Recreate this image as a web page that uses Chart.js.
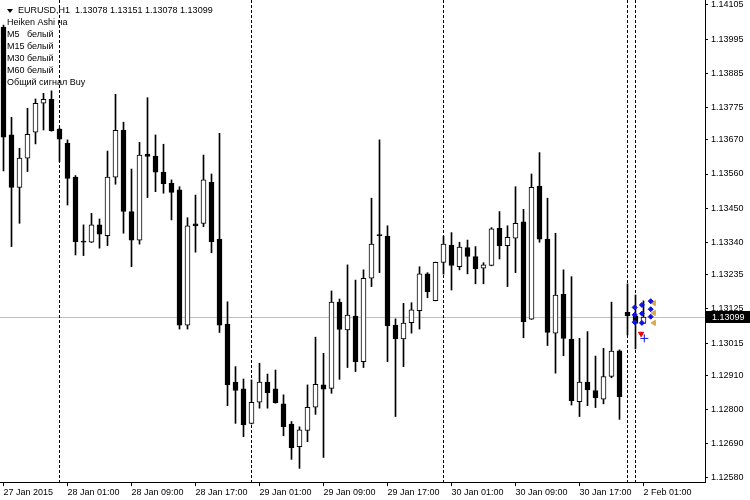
<!DOCTYPE html>
<html><head><meta charset="utf-8">
<script src="https://cdn.jsdelivr.net/npm/chart.js@4"></script>
<style>html,body{margin:0;padding:0;background:#fff;overflow:hidden}</style>
</head><body>
<canvas id="c" width="750" height="500"></canvas>
<script>
// ---- data ----
const timeLabels = ["27 Jan 2015","28 Jan 01:00","28 Jan 09:00","28 Jan 17:00","29 Jan 01:00","29 Jan 09:00","29 Jan 17:00","30 Jan 01:00","30 Jan 09:00","30 Jan 17:00","2 Feb 01:00"];
const timeTickIndex = [0,8,16,24,32,40,48,56,64,72,80];
const separators = [7,31,55,78,79];
const yTicks = [1.14105,1.13995,1.13885,1.13775,1.13670,1.13560,1.13450,1.13340,1.13235,1.13125,1.13015,1.12910,1.12800,1.12690,1.12580];
const currentPrice = 1.13099;
const headerLines = ["EURUSD,H1  1.13078 1.13151 1.13078 1.13099","Heiken Ashi на","M5   белый","M15 белый","M30 белый","M60 белый","Общий сигнал Buy"];

const opens  = [1.14034,1.13686,1.13517,1.13611,1.13695,1.13788,1.13801,1.13705,1.13659,1.13550,1.13344,1.13340,1.13396,1.13361,1.13550,1.13701,1.13439,1.13347,1.13624,1.13618,1.13566,1.13530,1.13509,1.13073,1.13399,1.13401,1.13533,1.13350,1.13076,1.12889,1.12867,1.12756,1.12824,1.12889,1.12867,1.12819,1.12754,1.12681,1.12733,1.12808,1.12880,1.12869,1.13147,1.13057,1.13102,1.12955,1.13224,1.13365,1.13360,1.13073,1.13028,1.13081,1.13119,1.13238,1.13152,1.13275,1.13331,1.13261,1.13323,1.13294,1.13256,1.13265,1.13385,1.13329,1.13353,1.13406,1.13092,1.13521,1.13350,1.13047,1.13172,1.13028,1.12826,1.12889,1.12862,1.12834,1.12907,1.12990,1.13114,1.13103,1.13078];
const highs  = [1.14040,1.13743,1.13643,1.13772,1.13802,1.13820,1.13828,1.13708,1.13670,1.13555,1.13396,1.13433,1.13415,1.13634,1.13817,1.13727,1.13576,1.13662,1.13806,1.13686,1.13656,1.13541,1.13519,1.13419,1.13492,1.13621,1.13560,1.13691,1.13148,1.12939,1.12899,1.12896,1.12950,1.12915,1.12928,1.12848,1.12762,1.12745,1.12880,1.13034,1.12982,1.13183,1.13157,1.13267,1.13218,1.13251,1.13482,1.13670,1.13393,1.13093,1.13143,1.13145,1.13261,1.13242,1.13276,1.13360,1.13371,1.13340,1.13347,1.13326,1.13274,1.13387,1.13439,1.13393,1.13519,1.13446,1.13560,1.13629,1.13482,1.13369,1.13251,1.13229,1.13030,1.13052,1.12973,1.12998,1.13147,1.12993,1.13206,1.13170,1.13151];
const lows   = [1.13570,1.13326,1.13401,1.13568,1.13657,1.13702,1.13698,1.13600,1.13460,1.13299,1.13297,1.13339,1.13321,1.13329,1.13527,1.13369,1.13261,1.13334,1.13484,1.13503,1.13498,1.13412,1.13060,1.13060,1.13308,1.13390,1.13306,1.13049,1.12813,1.12756,1.12713,1.12754,1.12805,1.12805,1.12821,1.12716,1.12640,1.12611,1.12697,1.12785,1.12646,1.12853,1.12898,1.12936,1.12923,1.12936,1.13197,1.13242,1.12955,1.12778,1.12939,1.13047,1.13060,1.13161,1.13151,1.13237,1.13186,1.13251,1.13238,1.13206,1.13206,1.13264,1.13286,1.13197,1.13242,1.13032,1.13091,1.13340,1.13007,1.12918,1.12974,1.12815,1.12778,1.12813,1.12807,1.12819,1.12903,1.12769,1.13041,1.12996,1.13078];
const closes = [1.13679,1.13517,1.13611,1.13688,1.13788,1.13801,1.13700,1.13672,1.13546,1.13342,1.13340,1.13396,1.13366,1.13550,1.13701,1.13439,1.13347,1.13621,1.13617,1.13566,1.13529,1.13501,1.13073,1.13393,1.13393,1.13541,1.13342,1.13073,1.12880,1.12862,1.12751,1.12824,1.12889,1.12855,1.12823,1.12745,1.12678,1.12735,1.12808,1.12882,1.12866,1.13147,1.13059,1.13105,1.12955,1.13224,1.13334,1.13361,1.13071,1.13028,1.13079,1.13122,1.13238,1.13181,1.13275,1.13334,1.13265,1.13324,1.13294,1.13254,1.13267,1.13383,1.13329,1.13356,1.13401,1.13084,1.13517,1.13350,1.13049,1.13170,1.13030,1.12829,1.12889,1.12864,1.12839,1.12907,1.12989,1.12842,1.13103,1.13078,1.13099];

// indicator markers (bar index, price)
const blueMarkX = [78.9,78.9,78.9,79.8,79.8,79.8,80.9,80.9,80.9];
const blueMarkY = [1.13130,1.13106,1.13082,1.13138,1.13110,1.13080,1.13150,1.13124,1.13100];
const orangeMarkX = [81.3,81.3,81.3];
const orangeMarkY = [1.13144,1.13112,1.13080];
const redMarkX = [79.7];
const redMarkY = [1.13045];
const plusMarkX = [80.1];
const plusMarkY = [1.13030];

// ---- chart ----
const FONT = {family: "'Liberation Sans', Arial, sans-serif", size: 9};
const idx = opens.map((_, i) => i);

const overlay = {
  id: 'overlay',
  beforeDatasetsDraw(chart) {
    const {ctx, chartArea: a, scales: {x, y}} = chart;
    ctx.save();
    ctx.strokeStyle = '#c0c0c0'; ctx.lineWidth = 1;
    const py = Math.round(y.getPixelForValue(currentPrice)) + 0.5;
    ctx.beginPath(); ctx.moveTo(a.left, py); ctx.lineTo(a.right, py); ctx.stroke();
    ctx.strokeStyle = '#000'; ctx.setLineDash([3, 2]);
    separators.forEach(s => {
      const px = Math.floor(x.getPixelForValue(s)) + 0.5;
      ctx.beginPath(); ctx.moveTo(px, a.top); ctx.lineTo(px, a.bottom); ctx.stroke();
    });
    ctx.restore();
  },
  afterDraw(chart) {
    const {ctx, chartArea: a, scales: {y}} = chart;
    ctx.save();
    ctx.font = FONT.size + "px " + FONT.family;
    ctx.fillStyle = '#000'; ctx.textBaseline = 'middle'; ctx.textAlign = 'left';
    headerLines.forEach((t, i) => {
      ctx.fillText(t, i === 0 ? 18 : 7, 11 + i * 12);
    });
    ctx.beginPath(); ctx.moveTo(7, 9); ctx.lineTo(13, 9); ctx.lineTo(10, 13); ctx.closePath(); ctx.fill();
    const py = Math.round(y.getPixelForValue(currentPrice));
    ctx.fillRect(a.right + 1, py - 6, 750 - a.right - 1, 12);
    ctx.fillStyle = '#fff';
    ctx.fillText(currentPrice.toFixed(5), a.right + 7, py + 0.5);
    ctx.restore();
  }
};

new Chart(document.getElementById('c'), {
  type: 'bar',
  data: {
    datasets: [
      {type: 'line', showLine: false, data: blueMarkX.map((v, i) => ({x: v, y: blueMarkY[i]})),
       pointStyle: 'rectRot', pointRadius: 2.5, pointBackgroundColor: '#1010e0', pointBorderColor: '#1010e0', pointBorderWidth: 1},
      {type: 'line', showLine: false, data: orangeMarkX.map((v, i) => ({x: v, y: orangeMarkY[i]})),
       pointStyle: 'triangle', pointRadius: 3, pointRotation: 270, pointBackgroundColor: '#d9a84e', pointBorderColor: '#d9a84e'},
      {type: 'line', showLine: false, data: redMarkX.map((v, i) => ({x: v, y: redMarkY[i]})),
       pointStyle: 'triangle', pointRadius: 3, pointRotation: 180, pointBackgroundColor: '#ee0000', pointBorderColor: '#ee0000'},
      {type: 'line', showLine: false, data: plusMarkX.map((v, i) => ({x: v, y: plusMarkY[i]})),
       pointStyle: 'cross', pointRadius: 4, pointBorderColor: '#1010e0', pointBorderWidth: 1},
      {
        label: 'body',
        data: idx.map(i => ({x: i, y: [opens[i], closes[i]]})),
        backgroundColor: idx.map(i => closes[i] >= opens[i] ? '#ffffff' : '#000000'),
        borderColor: '#000', borderWidth: 1, borderSkipped: false,
        barThickness: 5, grouped: false
      },
      {
        label: 'wick',
        data: idx.map(i => ({x: i, y: [lows[i], highs[i]]})),
        backgroundColor: '#000', borderWidth: 0,
        barThickness: 1, grouped: false
      }
    ]
  },
  options: {
    responsive: false, animation: false, devicePixelRatio: 1,
    layout: {padding: 0, autoPadding: false},
    plugins: {legend: {display: false}, tooltip: {enabled: false}},
    scales: {
      x: {
        type: 'linear', min: -0.4375, max: 87.6875, offset: false, bounds: 'data',
        afterBuildTicks: s => { s.ticks = timeTickIndex.map(v => ({value: v})); },
        afterFit: s => { s.height = 18; s.paddingLeft = 0; s.paddingRight = 0; },
        ticks: {autoSkip: false, maxRotation: 0, minRotation: 0, align: 'start', padding: 1,
          color: '#000', font: FONT,
          callback: v => { const k = timeTickIndex.indexOf(v); return k >= 0 ? timeLabels[k] : ''; }},
        grid: {offset: false, drawOnChartArea: false, drawTicks: true, tickLength: 4, color: '#000'},
        border: {display: true, color: '#000'}
      },
      y: {
        position: 'right', min: 1.12567, max: 1.14121,
        afterBuildTicks: s => { s.ticks = yTicks.map(v => ({value: v})); },
        afterFit: s => { s.width = 45; s.paddingTop = 0; s.paddingBottom = 0; },
        ticks: {color: '#000', font: FONT, padding: 3, callback: v => Number(v).toFixed(5)},
        grid: {drawOnChartArea: false, drawTicks: true, tickLength: 3, color: '#000'},
        border: {display: true, color: '#000'}
      }
    }
  },
  plugins: [overlay]
});
</script>
</body></html>
